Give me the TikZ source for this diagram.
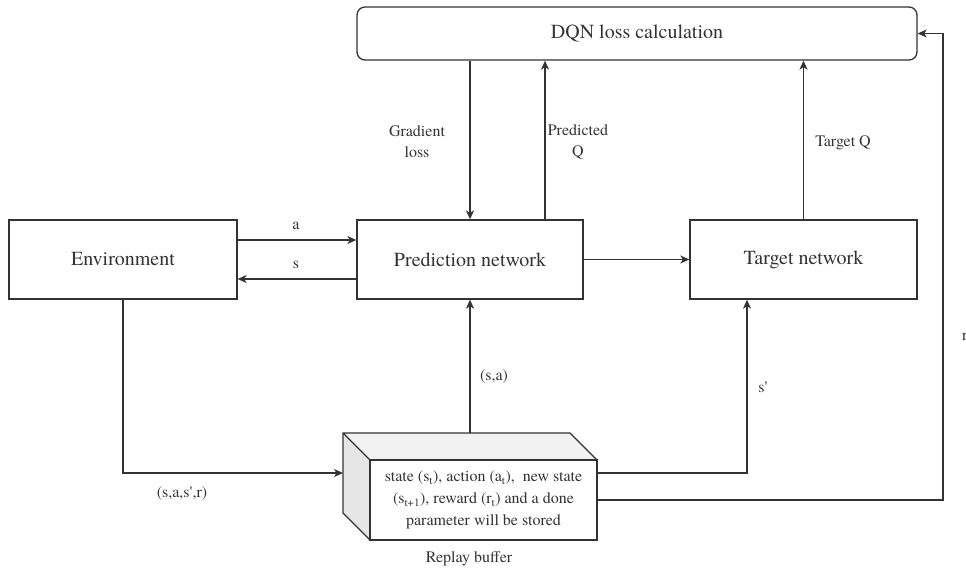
\documentclass[tikz,border=0pt]{standalone}
\usepackage{fontspec}
\setmainfont{TeX Gyre Termes}
\usetikzlibrary{arrows.meta,calc}
\definecolor{ink}{HTML}{333333}
\definecolor{sideface}{HTML}{E6E6E6}
\definecolor{topface}{HTML}{F2F2F2}
\tikzset{
  block/.style={draw=ink, line width=1.3pt, fill=white, rectangle, inner sep=0pt,
                text=ink, font=\fontsize{20}{24}\selectfont},
  lbl/.style={text=ink, inner sep=0pt, align=center,
              font=\fontsize{16}{21}\selectfont},
  wire/.style={draw=ink, line width=1.3pt},
  flow/.style={wire, -{Stealth[length=9pt,width=8pt,inset=2.5pt]}},
}
\begin{document}
\begin{tikzpicture}[x=1pt, y=-1pt]
\useasboundingbox (0,0) rectangle (966,571);

% main blocks
\node[block, rounded corners=8pt, minimum width=560pt, minimum height=53pt]
  (dqn) at (637,33.5) {DQN loss calculation};
\node[block, minimum width=228pt, minimum height=79pt] (env) at (123,259.5) {Environment};
\node[block, minimum width=226pt, minimum height=79pt] (pred) at (470,259.5) {Prediction network};
\node[block, minimum width=227pt, minimum height=79pt] (tgt) at (803.5,259.5) {Target network};

% replay buffer drawn as a box: top and side faces, then the front face
\fill[topface] (343,433) -- (570,433) -- (597,460) -- (370,460) -- cycle;
\fill[sideface] (343,433) -- (370,460) -- (370,540) -- (343,513) -- cycle;
\draw[wire, line join=round] (370,460) -- (343,433) -- (570,433) -- (597,460);
\draw[wire, line join=round] (343,433) -- (343,513) -- (370,540);
\node[block, minimum width=227pt, minimum height=80pt, align=center,
      font=\fontsize{16}{22}\selectfont] (buf) at (483.5,500)
  {state (s\textsubscript{t}), action (a\textsubscript{t}),\ \ new state\\
   (s\textsubscript{t+1}), reward (r\textsubscript{t}) and a done\\
   parameter will be stored};
\node[lbl] (bufname) at (469,559) {Replay buffer};

% anchor points on the buffer and bends
\coordinate (bufleft) at (343,473);
\coordinate (buftop) at (470,433);
\coordinate (bufsp) at (597,473);
\coordinate (spturn) at (747,473);
\coordinate (fbturn) at (943,500);
\coordinate (envturn) at (123,473);
\coordinate (predq) at (545,220);

% environment <-> prediction network
\draw[flow] ($(env.east)+(0,-19.5)$) -- ($(pred.west)+(0,-19.5)$);
\draw[flow] ($(pred.west)+(0,19.5)$) -- ($(env.east)+(0,19.5)$);
\node[lbl] (la) at (296,226) {a};
\node[lbl] (ls) at (296,265) {s};

% prediction -> target
\draw[flow] (pred.east) -- (tgt.west);

% links with the loss block
\draw[flow] (pred.north |- dqn.south) -- (pred.north);
\draw[flow] (predq) -- (predq |- dqn.south);
\draw[flow] (tgt.north) -- (tgt.north |- dqn.south);
\node[lbl] (lgrad) at (417,142) {Gradient\\loss};
\node[lbl] (lpq) at (578,142) {Predicted\\Q};
\node[lbl] (ltq) at (843,143) {Target Q};

% environment -> replay buffer
\draw[flow] (env.south) -- (envturn) -- (bufleft);
\node[lbl] (lsasr) at (182,493) {(s,a,s\textquotesingle,r)};

% replay buffer -> networks
\draw[flow] (buftop) -- (pred.south);
\node[lbl] (lsa) at (494,376) {(s,a)};
\draw[flow] (bufsp) -- (spturn) -- (spturn |- tgt.south);
\node[lbl] (lsp) at (763,387) {s\textquotesingle};

% done flag back to the loss block
\draw[flow] (buf.east) -- (fbturn) |- (dqn.east);
\node[lbl, anchor=west] (lr) at (962,337) {r};
\end{tikzpicture}
\end{document}
